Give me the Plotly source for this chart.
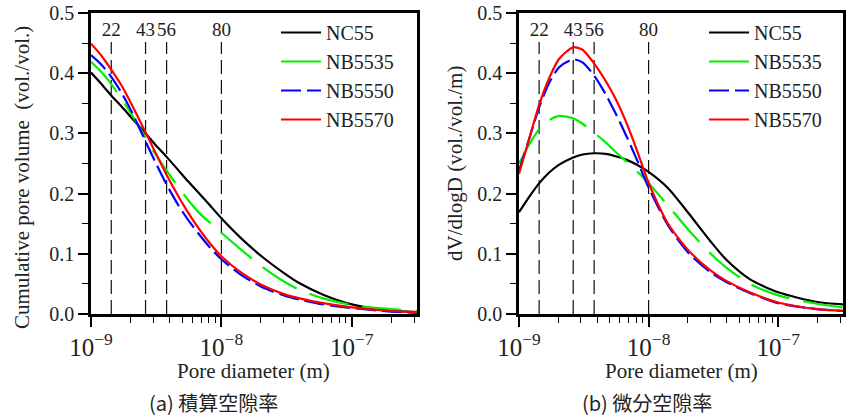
import plotly.graph_objects as go

# ---------------- data ----------------
diam = [1.0e-9, 1.202e-9, 1.429e-9, 1.710e-9, 2.042e-9, 2.618e-9, 3.090e-9, 3.802e-9,
        4.667e-9, 5.572e-9, 6.761e-9, 8.128e-9, 1.0e-8, 1.413e-8, 2.042e-8, 3.020e-8,
        3.981e-8, 6.026e-8, 1.0e-7, 1.995e-7, 3.162e-7]
series_names = ["NC55", "NB5535", "NB5550", "NB5570"]

# (a) cumulative pore volume (vol./vol.)
cum_nc55 = [0.401, 0.382, 0.363, 0.345, 0.326, 0.300, 0.282, 0.261, 0.239, 0.220, 0.200, 0.181,
            0.159, 0.126, 0.0955, 0.068, 0.051, 0.032, 0.016, 0.0055, 0.003]
cum_nb5535 = [0.419, 0.402, 0.382, 0.358, 0.332, 0.293, 0.267, 0.238, 0.211, 0.189, 0.168, 0.152,
              0.135, 0.107, 0.079, 0.054, 0.040, 0.026, 0.015, 0.008, 0.005]
cum_nb5550 = [0.430, 0.414, 0.394, 0.368, 0.337, 0.287, 0.254, 0.215, 0.181, 0.156, 0.132, 0.111,
              0.091, 0.065, 0.045, 0.031, 0.024, 0.016, 0.010, 0.004, 0.002]
cum_nb5570 = [0.449, 0.429, 0.406, 0.380, 0.349, 0.302, 0.270, 0.231, 0.196, 0.168, 0.141, 0.118,
              0.096, 0.069, 0.048, 0.033, 0.026, 0.018, 0.011, 0.005, 0.003]

# (b) differential pore volume dV/dlogD
dif_nc55 = [0.169, 0.195, 0.217, 0.235, 0.248, 0.260, 0.265, 0.267, 0.266, 0.262, 0.256, 0.248,
            0.236, 0.209, 0.167, 0.120, 0.090, 0.058, 0.036, 0.020, 0.016]
dif_nb5535 = [0.250, 0.282, 0.307, 0.322, 0.329, 0.325, 0.316, 0.301, 0.285, 0.269, 0.253, 0.237,
              0.217, 0.180, 0.139, 0.100, 0.077, 0.050, 0.031, 0.017, 0.011]
dif_nb5550 = [0.238, 0.292, 0.343, 0.384, 0.410, 0.423, 0.418, 0.396, 0.365, 0.333, 0.295, 0.256,
              0.210, 0.147, 0.101, 0.069, 0.053, 0.035, 0.018, 0.008, 0.005]
dif_nb5570 = [0.233, 0.292, 0.347, 0.392, 0.424, 0.443, 0.439, 0.416, 0.387, 0.357, 0.317, 0.272,
              0.218, 0.150, 0.105, 0.072, 0.055, 0.036, 0.019, 0.008, 0.0055]

mark_diam = [1.43e-9, 2.62e-9, 3.8e-9, 1.0e-8]
mark_labels = ["22", "43", "56", "80"]
mark_top = 0.452
mark_label_y = 0.47

y_ticks = [0.0, 0.1, 0.2, 0.3, 0.4, 0.5]

colors = ["#000000", "#00f000", "#0000ff", "#ff0000"]
dashes = ["solid", "40px,14px", "20px,6px", "solid"]

SERIF = "Liberation Serif"
W, H = 847, 416

fig = go.Figure()

cum = [cum_nc55, cum_nb5535, cum_nb5550, cum_nb5570]
dif = [dif_nc55, dif_nb5535, dif_nb5550, dif_nb5570]

for sub, data, leg in [(1, cum, "legend"), (2, dif, "legend2")]:
    xa = "x" if sub == 1 else "x2"
    ya = "y" if sub == 1 else "y2"
    vx, vy = [], []
    for d in mark_diam:
        vx += [d, d, None]
        vy += [0, mark_top, None]
    fig.add_trace(go.Scatter(x=vx, y=vy, mode="lines", xaxis=xa, yaxis=ya,
                             line=dict(color="#111111", width=1.2, dash="14px,6px"),
                             showlegend=False, hoverinfo="skip"))
    fig.add_trace(go.Scatter(x=mark_diam, y=[mark_label_y] * len(mark_diam), mode="text",
                             text=mark_labels, textposition="middle center",
                             textfont=dict(family=SERIF, size=19, color="#222222"),
                             xaxis=xa, yaxis=ya, showlegend=False, hoverinfo="skip"))
    for name, vals, c, dsh in zip(series_names, data, colors, dashes):
        fig.add_trace(go.Scatter(x=diam, y=vals, mode="lines", name=name,
                                 line=dict(color=c, width=2.2, dash=dsh, shape="spline", smoothing=0.7),
                                 xaxis=xa, yaxis=ya, legend=leg))

def px_x(p):
    return p / W

def px_y(p):
    return 1 - p / H

xdom1 = [px_x(91), px_x(417)]
xdom2 = [px_x(519), px_x(843)]
ydom = [px_y(314), px_y(13)]

xcommon = dict(type="log", range=[-9, -6.5], dtick=1, exponentformat="power", automargin=False,
               showline=True, linecolor="black", linewidth=2.5, mirror=True,
               ticks="outside", ticklen=10, tickwidth=1.5, tickcolor="black",
               minor=dict(ticks="outside", ticklen=6, tickwidth=1.2, tickcolor="black", dtick="D1"),
               showgrid=False, zeroline=False,
               tickfont=dict(family=SERIF, size=20, color="#222222"))
ycommon = dict(range=[0, 0.5], tickvals=y_ticks, tickformat=".1f", automargin=False,
               showline=True, linecolor="black", linewidth=2.5, mirror=True,
               ticks="outside", ticklen=10, tickwidth=1.5, tickcolor="black",
               minor=dict(ticks="outside", ticklen=6, tickwidth=1.2, tickcolor="black", dtick=0.05),
               showgrid=False, zeroline=False,
               tickfont=dict(family=SERIF, size=20, color="#222222"))

legcommon = dict(font=dict(family=SERIF, size=20, color="#222222"), bgcolor="rgba(0,0,0,0)",
                 borderwidth=0, itemwidth=40, yanchor="top", xanchor="left", tracegroupgap=0)

fig.update_layout(
    width=W, height=H, margin=dict(l=0, r=0, t=0, b=0, autoexpand=False),
    paper_bgcolor="white", plot_bgcolor="white",
    xaxis=dict(domain=xdom1, anchor="y", **xcommon),
    yaxis=dict(domain=ydom, anchor="x", **ycommon),
    xaxis2=dict(domain=xdom2, anchor="y2", **xcommon),
    yaxis2=dict(domain=ydom, anchor="x2", **ycommon),
    legend=dict(x=px_x(276), y=px_y(13), **legcommon),
    legend2=dict(x=px_x(704), y=px_y(13), **legcommon),
    showlegend=True,
)

ann = []
tf = dict(family=SERIF, size=21, color="#222222")
ann.append(dict(text="Pore diameter (m)", x=px_x(253), y=px_y(371), xref="paper", yref="paper",
                showarrow=False, font=tf, xanchor="center", yanchor="middle"))
ann.append(dict(text="Pore diameter (m)", x=px_x(681), y=px_y(371), xref="paper", yref="paper",
                showarrow=False, font=tf, xanchor="center", yanchor="middle"))
ann.append(dict(text="Cumulative pore volume\u00a0\u00a0(vol./vol.)", x=px_x(22), y=px_y(178),
                xref="paper", yref="paper", showarrow=False, font=tf, textangle=-90,
                xanchor="center", yanchor="middle"))
ann.append(dict(text="dV/dlogD (vol./vol./m)", x=px_x(455), y=px_y(164),
                xref="paper", yref="paper", showarrow=False, font=tf, textangle=-90,
                xanchor="center", yanchor="middle"))
cf = dict(family="Noto Sans CJK JP", size=20, color="#222222")
ann.append(dict(text="(a)\u00a0積算空隙率", x=px_x(213), y=px_y(402), xref="paper", yref="paper",
                showarrow=False, font=cf, xanchor="center", yanchor="middle"))
ann.append(dict(text="(b)\u00a0微分空隙率", x=px_x(647), y=px_y(402), xref="paper", yref="paper",
                showarrow=False, font=cf, xanchor="center", yanchor="middle"))
fig.update_layout(annotations=ann)

fig.write_html("out.html")
